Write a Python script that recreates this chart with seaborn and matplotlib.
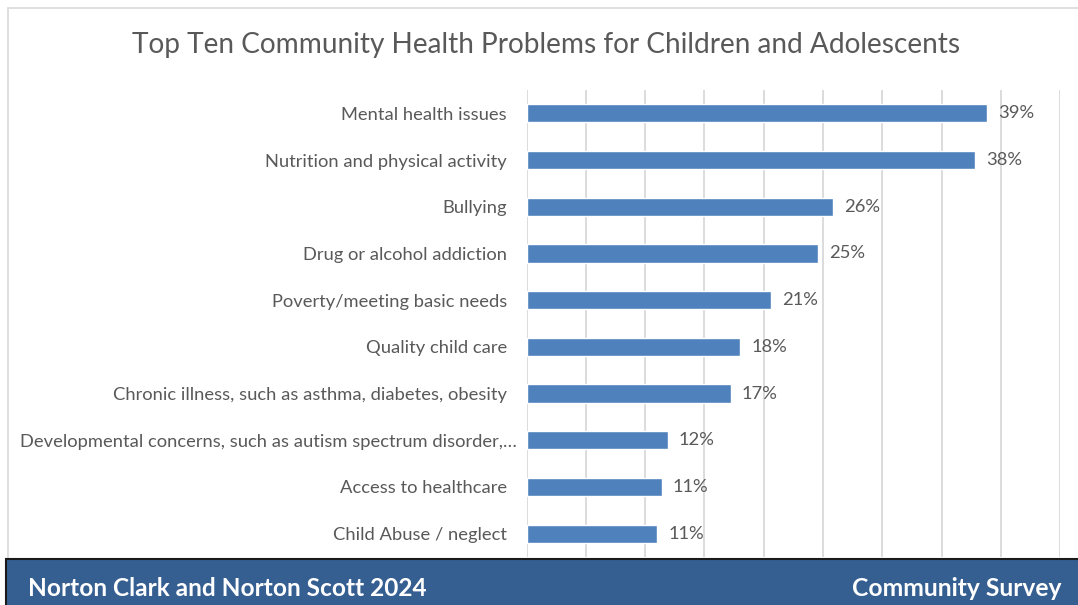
import matplotlib
matplotlib.use("Agg")
import matplotlib.pyplot as plt
from matplotlib.patches import Rectangle
import matplotlib.transforms as mtransforms
import seaborn as sns
import pandas as pd

# Survey results (share of respondents, %)
problems = [
    "Mental health issues",
    "Nutrition and physical activity",
    "Bullying",
    "Drug or alcohol addiction",
    "Poverty/meeting basic needs",
    "Quality child care",
    "Chronic illness, such as asthma, diabetes, obesity",
    "Developmental concerns, such as autism spectrum disorder,\u2026",
    "Access to healthcare",
    "Child Abuse / neglect",
]
shares = [38.8, 37.8, 25.8, 24.6, 20.6, 18.0, 17.2, 11.9, 11.4, 11.0]

title = "Top Ten Community Health Problems for Children and Adolescents"
footer_left = "Norton Clark and Norton Scott 2024"
footer_right = "Community Survey"

df = pd.DataFrame({"problem": problems, "share": shares})

sns.set_theme(style="white")
plt.rcParams["font.family"] = ["Lato", "DejaVu Sans"]

W, H = 1078, 605
fig = plt.figure(figsize=(W / 100, H / 100), dpi=100)
fig.patch.set_facecolor("white")

# chart frame
fig.patches.append(Rectangle((8 / W, 0), 1.2, 1 - 8 / H, transform=fig.transFigure,
                             facecolor="none", edgecolor="#D9D9D9", lw=1.2, zorder=0))

ax = fig.add_axes([526.5 / W, 1 - 557 / H, 533.8 / W, 467 / H])
sns.barplot(data=df, x="share", y="problem", orient="h", color="#4F81BD",
            saturation=1, width=0.39, ax=ax, zorder=3)

ax.set_xlim(0, 45)
ax.set_xticks(range(0, 46, 5))
ax.xaxis.grid(True, color="#D9D9D9", lw=1.3)
ax.set_axisbelow(True)
ax.tick_params(axis="x", length=0, labelbottom=False)
ax.tick_params(axis="y", length=0, pad=14, labelsize=13.2, labelcolor="#595959")
ax.set_xlabel("")
ax.set_ylabel("")
for s in ax.spines.values():
    s.set_visible(False)

# the truncated label sits a little closer to the bars
for lbl in ax.get_yticklabels():
    if lbl.get_text().endswith("\u2026"):
        lbl.set_transform(lbl.get_transform() + mtransforms.ScaledTranslation(10 / 100, 0, fig.dpi_scale_trans))

ax.bar_label(ax.containers[0], labels=[f"{v:.0f}%" for v in shares],
             padding=8, fontsize=13.2, color="#595959")

fig.text(546 / W, 1 - 45 / H, title, ha="center", va="center",
         fontsize=20.2, color="#595959")

# footer band
fig.patches.append(Rectangle((6 / W, -0.01), 1.0, (605 - 559) / H + 0.01,
                             transform=fig.transFigure, facecolor="#365F91",
                             edgecolor="#1A1A1A", lw=1.5, zorder=5))
fig.text(28 / W, 1 - 589 / H, footer_left, ha="left", va="center",
         fontsize=17.6, fontweight="bold", color="white", zorder=6)
fig.text(1062 / W, 1 - 589 / H, footer_right, ha="right", va="center",
         fontsize=17.7, fontweight="bold", color="white", zorder=6)

fig.savefig("out.png", dpi=100)
